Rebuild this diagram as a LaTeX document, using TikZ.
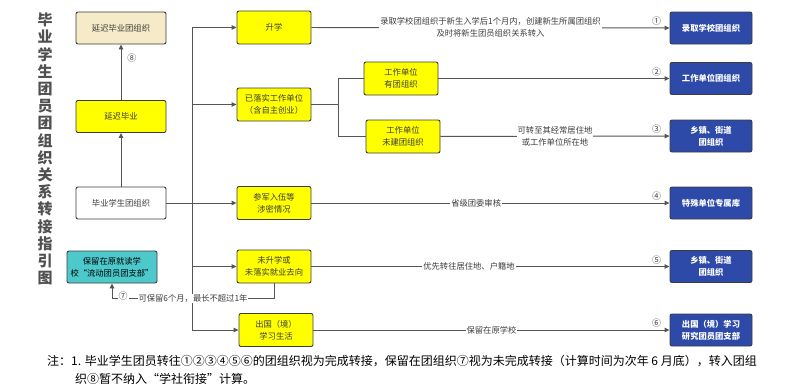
\documentclass[tikz,border=0pt]{standalone}
\usepackage{fontspec}
\setmainfont{Noto Sans CJK SC}
\usepackage{tikz}
\usetikzlibrary{arrows.meta, positioning, calc}
\definecolor{myyellow}{RGB}{255,255,0}
\definecolor{myblue}{RGB}{46,74,168}
\definecolor{myteal}{RGB}{77,201,204}
\definecolor{mybeige}{RGB}{245,235,200}
\definecolor{mydark}{RGB}{60,60,60}
\definecolor{mytitle}{RGB}{80,80,80}
\definecolor{myline}{RGB}{85,85,85}
\tikzset{
  box/.style={rectangle, draw=mydark, line width=0.9pt, rounded corners=2pt,
    align=center, inner sep=1pt, font=\fontsize{8.3}{12}\selectfont, text=mydark},
  ybox/.style={box, fill=myyellow, minimum width=74pt, minimum height=33pt},
  destbox/.style={box, fill=myblue, text=white, minimum width=82pt, minimum height=32pt,
    font=\fontsize{8.3}{12}\selectfont\bfseries},
  lbox/.style={box, minimum width=90pt, minimum height=32pt},
  arrow/.style={-{Triangle[length=5pt,width=4.5pt]}, line width=0.9pt, color=myline},
  line/.style={draw, line width=0.9pt, color=myline},
  lbl/.style={fill=white, inner sep=1pt, font=\fontsize{8.3}{12}\selectfont, text=mydark, align=center},
  num/.style={font=\fontsize{9}{9}\selectfont, text=mydark, inner sep=0pt}
}
\begin{document}
\begin{tikzpicture}[x=1pt, y=-1pt]
  \useasboundingbox (0,0) rectangle (798,391);

  % Title
  \node[font=\fontsize{15}{17.2}\selectfont\bfseries, text=mytitle, align=center] (title) at (45,149)
    {毕\\业\\学\\生\\团\\员\\团\\组\\织\\关\\系\\转\\接\\指\\引\\图};

  % Nodes, left column
  \node[lbox, fill=mybeige] (delayorg) at (121,28) {延迟毕业团组织};
  \node[lbox, fill=myyellow] (delay) at (121,116.5) {延迟毕业};
  \node[lbox, fill=white] (grad) at (121,203) {毕业学生团组织};
  \node[lbox, fill=myteal, text=black] (keep) at (112,267) {保留在原就读学\\校“流动团员团支部”};

  % Nodes, middle column
  \node[ybox] (enroll) at (274,27.5) {升学};
  \node[ybox] (employ) at (274,104.5) {已落实工作单位\\（含自主创业）};
  \node[ybox] (army) at (274,203) {参军入伍等\\涉密情况};
  \node[ybox] (unemp) at (274,266.5) {未升学或\\未落实就业去向};
  \node[ybox] (abroad) at (276,330) {出国（境）\\学习生活};
  \node[ybox] (hasorg) at (401,78.5) {工作单位\\有团组织};
  \node[ybox] (noorg) at (403,136.5) {工作单位\\未建团组织};

  % Nodes, right column
  \node[destbox] (dest1) at (711,28) {录取学校团组织};
  \node[destbox] (dest2) at (711,78.5) {工作单位团组织};
  \node[destbox] (dest3) at (711,136) {乡镇、街道\\团组织};
  \node[destbox] (dest4) at (711,203) {特殊单位专属库};
  \node[destbox] (dest5) at (711,266.5) {乡镇、街道\\团组织};
  \node[destbox] (dest6) at (711,330) {出国（境）学习\\研究团员团支部};

  % Connections
  \coordinate (trunk) at (192,0);
  \coordinate (split) at (338,0);
  \draw[line] (trunk |- enroll) -- (trunk |- abroad);
  \draw[arrow] (grad) -- (army);
  \foreach \n in {enroll, employ, unemp, abroad}
    \draw[arrow] (trunk |- \n) -- (\n);
  \draw[arrow] (grad) -- (delay);
  \draw[arrow] (delay) -- node[num, pos=0.75, right=6pt] {⑧} (delayorg);

  \draw[line] (employ) -- (split |- employ);
  \draw[line] (split |- hasorg) -- (split |- noorg);
  \draw[line] (split |- hasorg) -- (hasorg);
  \draw[line] (split |- noorg) -- (noorg);

  \draw[arrow] (enroll) -- node[lbl] {录取学校团组织于新生入学后1个月内，创建新生所属团组织\\及时将新生团员组织关系转入}
    node[num, pos=1, anchor=south east, xshift=-8pt, yshift=2pt] {①} (dest1);
  \draw[arrow] (hasorg) -- node[num, pos=1, anchor=south east, xshift=-8pt, yshift=2pt] {②} (dest2);
  \draw[arrow] (noorg) -- node[lbl] {可转至其经常居住地\\或工作单位所在地}
    node[num, pos=1, anchor=south east, xshift=-8pt, yshift=2pt] {③} (dest3);
  \draw[arrow] (army) -- node[lbl, pos=0.46] {省级团委审核}
    node[num, pos=1, anchor=south east, xshift=-8pt, yshift=2pt] {④} (dest4);
  \draw[arrow] (unemp) -- node[lbl, pos=0.44] {优先转往居住地、户籍地}
    node[num, pos=1, anchor=south east, xshift=-8pt, yshift=2pt] {⑤} (dest5);
  \draw[arrow] (abroad) -- node[lbl] {保留在原学校}
    node[num, pos=1, anchor=south east, xshift=-8pt, yshift=2pt] {⑥} (dest6);

  % Keep in school loop
  \draw[arrow] (unemp.south) -- ++(0,15) -| node[lbl, pos=0.25] {可保留6个月，最长不超过1年}
    node[num, fill=white, inner sep=1pt, pos=0.466, yshift=2pt] {⑦} (keep.south);

  % Note
  \node[anchor=north west, font=\fontsize{12}{18}\selectfont, align=left, inner sep=0pt] (note) at (47,355)
    {注：1. 毕业学生团员转往①②③④⑤⑥的团组织视为完成转接，保留在团组织⑦视为未完成转接（计算时间为次年 6 月底），转入团组\\
     \hspace*{28pt}织⑧暂不纳入“学社衔接”计算。};
\end{tikzpicture}
\end{document}
